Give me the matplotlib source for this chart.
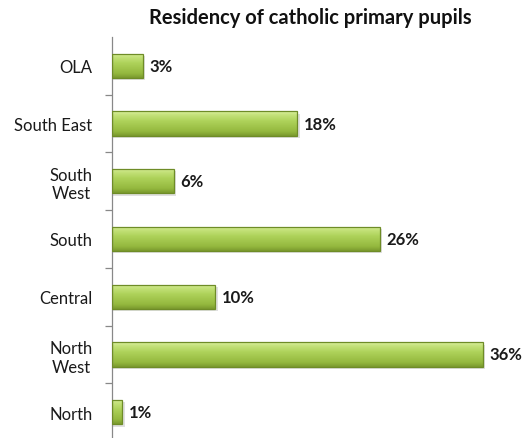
import matplotlib
matplotlib.use("Agg")
import matplotlib.pyplot as plt
import numpy as np
from matplotlib.colors import LinearSegmentedColormap
from matplotlib.patches import Rectangle

categories = ["North", "North\nWest", "Central", "South", "South\nWest", "South East", "OLA"]
values = [1, 36, 10, 26, 6, 18, 3]
title = "Residency of catholic primary pupils"

plt.rcParams['font.family'] = ['Lato', 'DejaVu Sans']

fig = plt.figure(figsize=(5.26, 4.39), dpi=100)
ax = fig.add_axes([112/526, -3/439, 412/526, 404/439])

y = np.arange(len(categories))
bh = 0.42
cmap = LinearSegmentedColormap.from_list("g", [
    (0.0, "#7a9a2e"), (0.18, "#94b83e"), (0.6, "#aed25a"), (0.85, "#c4e27a"), (1.0, "#dcf0a0")])
grad = np.linspace(0, 1, 64).reshape(-1, 1)

bars = ax.barh(y, values, height=bh, color="none", edgecolor="none", zorder=2)
for b in bars:
    x0, y0, w, h = b.get_x(), b.get_y(), b.get_width(), b.get_height()
    ax.add_patch(Rectangle((x0, y0 - 0.04), w + 0.25, h, facecolor="#000000", alpha=0.12,
                           edgecolor="none", zorder=1.5))
    im = ax.imshow(grad, cmap=cmap, aspect="auto", origin="lower",
                   extent=(x0, x0 + w, y0, y0 + h), zorder=2, interpolation="bilinear")
    rect = Rectangle((x0, y0), w, h, facecolor="none", edgecolor="#6e8c27", linewidth=0.9, zorder=3)
    ax.add_patch(rect)
    im.set_clip_path(rect)

for yi, v in zip(y, values):
    ax.annotate(f"{v}%", (v, yi), xytext=(5, 0), textcoords="offset points",
                va="center", ha="left", fontsize=12, fontweight="bold", color="#1a1a1a")

ax.set_xlim(0, 40)
ax.set_ylim(-0.5, len(categories) - 0.5)
ax.set_yticks(y)
ax.set_yticklabels(categories, fontsize=12, color="#1a1a1a", ha="right", multialignment="center")
ax.tick_params(axis="y", which="major", length=0, pad=14)
ax.set_yticks(np.arange(-0.5, len(categories) - 0.5, 1), minor=True)
ax.tick_params(axis="y", which="minor", length=5, color="#888888", width=0.9)
ax.set_xticks([])
for s in ["top", "right", "bottom"]:
    ax.spines[s].set_visible(False)
ax.spines["left"].set_color("#888888")
ax.spines["left"].set_linewidth(0.9)

fig.text(310/526, 1 - 18/439, title, ha="center", va="center", fontsize=14.5, fontweight="bold", color="#111111")

fig.savefig("out.png", dpi=100, facecolor="white")
